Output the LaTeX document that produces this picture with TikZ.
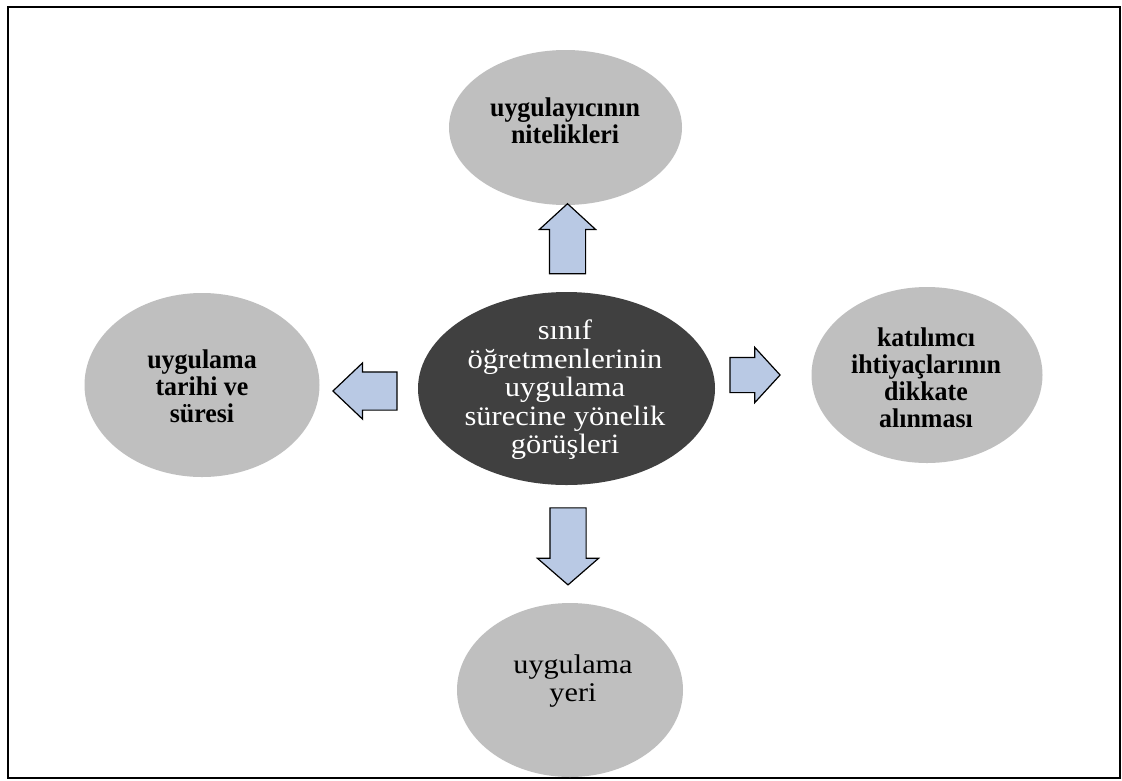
\documentclass[tikz,border=0pt]{standalone}
\usepackage{fontspec}
\setmainfont{Liberation Serif}
\newfontfamily\widefont[FakeStretch=1.09]{Liberation Serif}
\newfontfamily\botfont[FakeStretch=1.12]{Liberation Serif}
\newfontfamily\grayfont[FakeStretch=0.96]{Liberation Serif}
\usetikzlibrary{shapes.geometric,shapes.arrows}
\definecolor{bubblegray}{RGB}{191,191,191}
\definecolor{coredark}{RGB}{64,64,64}
\definecolor{arrowblue}{RGB}{185,201,228}
\begin{document}
\begin{tikzpicture}[x=1pt,y=-1pt,
  bubble/.style={ellipse,fill=bubblegray,draw=none,inner sep=0pt},
  core/.style={ellipse,fill=coredark,draw=none,inner sep=0pt},
  lbl/.style={align=center,inner sep=0pt,font=\grayfont\bfseries\fontsize{27}{27}\selectfont,text=black},
  corelbl/.style={align=center,inner sep=0pt,font=\widefont\fontsize{28}{28.5}\selectfont,text=white},
  botlbl/.style={align=center,inner sep=0pt,font=\botfont\fontsize{27}{28}\selectfont,text=black},
  blockarrow/.style={single arrow,draw=black,line width=1.2pt,fill=arrowblue,
    inner xsep=0pt,single arrow head indent=0pt}
]
\useasboundingbox (0,0) rectangle (1122,780);
\fill[white] (0,0) rectangle (1122,780);
\draw[line width=2pt] (7.5,6.5) rectangle (1120,778);

% ellipses
\node[bubble,minimum width=233pt,minimum height=155pt] (top) at (565.5,127.5) {};
\node[bubble,minimum width=235pt,minimum height=184pt] (left) at (202,385) {};
\node[bubble,minimum width=231pt,minimum height=176pt] (right) at (927,375) {};
\node[bubble,minimum width=226pt,minimum height=174pt] (bottom) at (570,690) {};
\node[core,minimum width=297pt,minimum height=193pt] (center) at (566.5,388.5) {};

% texts
\node[lbl] (topT) at (565,121) {uygulayıcının\\nitelikleri};
\node[lbl] (leftT) at (202,386) {uygulama\\tarihi ve\\süresi};
\node[lbl] (rightT) at (926,378) {katılımcı\\ihtiyaçlarının\\dikkate\\alınması};
\node[botlbl] (bottomT) at (573,681) {uygulama\\yeri};
\node[corelbl] (centerT) at (565,390) {sınıf\\öğretmenlerinin\\uygulama\\sürecine yönelik\\görüşleri};

% block arrows
\node[blockarrow,rotate=90,inner ysep=17.5pt,single arrow head extend=10pt,
  single arrow tip angle=95,minimum height=70pt] (aUp) at (567.5,247) {};
\node[blockarrow,rotate=-90,inner ysep=17.5pt,single arrow head extend=12.5pt,
  single arrow tip angle=98,minimum height=77pt] (aDown) at (568,538.5) {};
\node[blockarrow,rotate=180,inner ysep=18.5pt,single arrow head extend=9pt,
  single arrow tip angle=87,minimum height=64pt] (aLeft) at (375,391) {};
\node[blockarrow,inner ysep=17pt,single arrow head extend=10pt,
  single arrow tip angle=95,minimum height=50pt] (aRight) at (747,375) {};
\end{tikzpicture}
\end{document}
